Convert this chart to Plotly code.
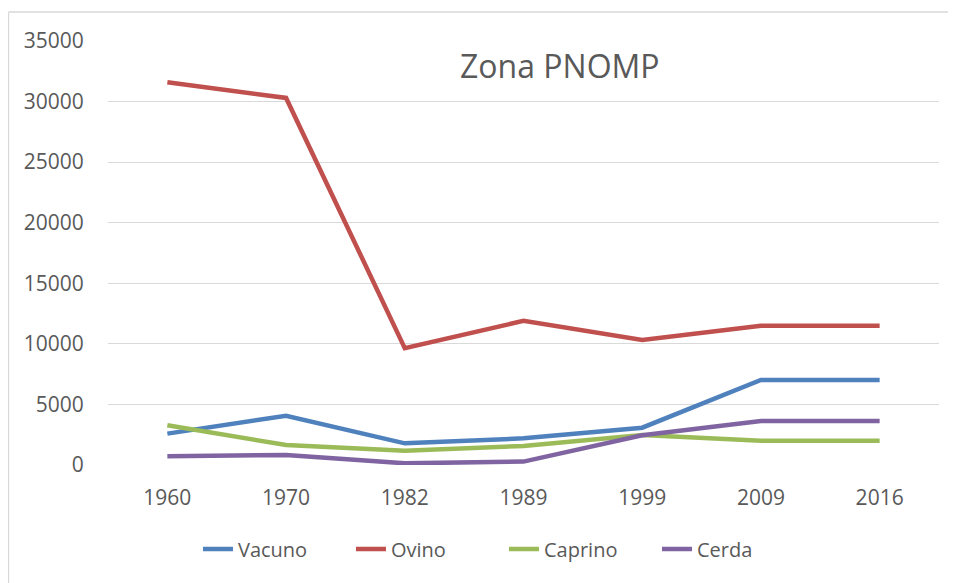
import plotly.graph_objects as go

years = ["1960", "1970", "1982", "1989", "1999", "2009", "2016"]
vacuno = [2590, 4070, 1790, 2200, 3080, 7020, 7020]
ovino = [31600, 30300, 9650, 11900, 10320, 11500, 11500]
caprino = [3280, 1650, 1180, 1570, 2480, 2010, 2010]
cerda = [720, 830, 140, 280, 2450, 3630, 3630]

series = [
    ("Vacuno", vacuno, "#4F81BD"),
    ("Ovino", ovino, "#C0504D"),
    ("Caprino", caprino, "#9BBB59"),
    ("Cerda", cerda, "#8064A2"),
]

fig = go.Figure()
for name, vals, color in series:
    fig.add_trace(go.Scatter(x=years, y=vals, name=name, mode="lines",
                             line=dict(color=color, width=4.5)))

font_family = "Open Sans, Noto Sans, sans-serif"
fig.update_layout(
    width=948, height=575,
    margin=dict(l=100, r=17, t=33, b=118, autoexpand=False),
    paper_bgcolor="white", plot_bgcolor="white",
    font=dict(family=font_family, size=21, color="#595959"),
    showlegend=True,
    legend=dict(orientation="h", x=0.4765, xanchor="center", y=-0.198, yanchor="middle",
                font=dict(size=20, color="#595959"), traceorder="normal",
                entrywidth=108, entrywidthmode="pixels"),
    xaxis=dict(type="category", range=[-0.5, 6.5], showgrid=False, zeroline=False,
               showline=False, ticks="outside", ticklen=14, tickcolor="rgba(0,0,0,0)",
               tickfont=dict(size=21, color="#595959")),
    yaxis=dict(range=[0, 35000], dtick=5000, showgrid=True, gridcolor="#D9D9D9",
               gridwidth=1.3, zeroline=False, showline=False,
               ticks="outside", ticklen=19, tickcolor="rgba(0,0,0,0)",
               tickfont=dict(size=21, color="#595959"), tickformat="d"),
    annotations=[dict(text="Zona PNOMP", x=0.544, y=32950, xref="paper", yref="y",
                      showarrow=False, font=dict(size=32, color="#595959"),
                      xanchor="center", yanchor="middle")],
    shapes=[
        dict(type="line", xref="paper", yref="paper", x0=-0.1197, x1=1.2,
             y0=1.0684, y1=1.0684, line=dict(color="#D9D9D9", width=1.3)),
        dict(type="line", xref="paper", yref="paper", x0=-0.1197, x1=-0.1197,
             y0=1.0684, y1=-0.3, line=dict(color="#D9D9D9", width=1.3)),
    ],
)

fig.write_html("out.html")
